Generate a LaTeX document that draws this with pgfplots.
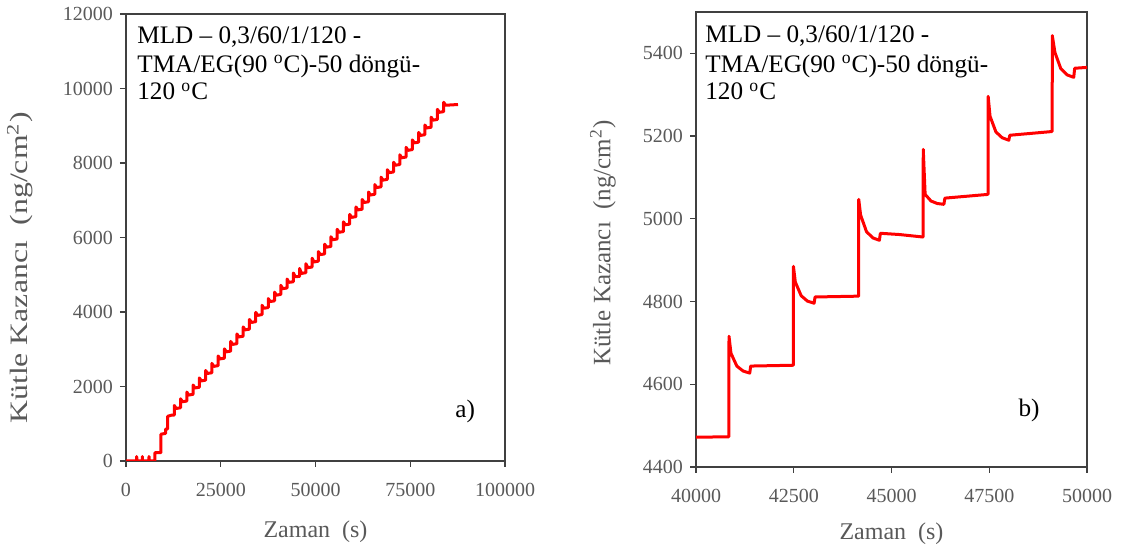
\documentclass[border=0pt]{standalone}
\usepackage{fontspec}
\setmainfont{Liberation Serif}
\usepackage{graphicx}
\usepackage{pgfplots}
\pgfplotsset{compat=1.18}
\definecolor{tickgray}{HTML}{595959}
\definecolor{axisdark}{HTML}{404040}

\pgfplotsset{
  qcm/.style={
    scale only axis,
    anchor=south west,
    axis line style={axisdark, line width=0.6pt},
    tick style={axisdark, line width=0.6pt},
    tick align=outside,
    major tick length=3pt,
    xtick pos=lower, ytick pos=left,
    scaled ticks=false,
    /pgf/number format/fixed,
    /pgf/number format/precision=0,
    /pgf/number format/1000 sep={},
    /pgf/number format/assume math mode=true,
    tick label style={font=\fontsize{10}{12}\selectfont, text=tickgray},
    xticklabel style={yshift=-4.5pt},
    label style={font=\fontsize{12}{14}\selectfont, text=tickgray},
    xlabel={Zaman\ \ (s)},
  },
  mass/.style={red, line width=1.5pt, line join=round},
}

\newcommand{\notelines}[4]{%
  \node[anchor=base west, inner sep=0pt, font=\fontsize{12.6}{15}\selectfont] at (rel axis cs:#1,#2) {MLD – 0,3/60/1/120 -};
  \node[anchor=base west, inner sep=0pt, font=\fontsize{12.6}{15}\selectfont] at (rel axis cs:#1,#3) {TMA/EG(90 \textsuperscript{o}C)-50 döngü-};
  \node[anchor=base west, inner sep=0pt, font=\fontsize{12.6}{15}\selectfont] at (rel axis cs:#1,#4) {120 \textsuperscript{o}C};
}

\begin{document}
\begin{tikzpicture}
\useasboundingbox (0,0) rectangle (565pt,274.5pt);

% a) whole run
\begin{axis}[qcm,
    at={(63pt,44pt)}, width=189.5pt, height=223.5pt,
    xmin=0, xmax=100000, ymin=0, ymax=12000,
    xtick={0,25000,50000,75000,100000},
    ytick={0,2000,4000,6000,8000,10000,12000},
    ylabel={\scalebox{1.27}[1]{Kütle Kazancı\ \ (ng/cm\textsuperscript{2})}},
    ylabel style={at={(axis description cs:-0.28,0.432)}, anchor=center, font=\fontsize{12.5}{14}\selectfont},
    xlabel style={at={(axis description cs:0.5,-0.158)}, anchor=center},
]
\addplot[mass] coordinates {
(0,0) (2800,0) (2820,120) (2900,0) (4280,0) (4300,120) (4380,0)
(6050,0) (6070,120) (6150,0) (7650,0) (7650,225) (9230,225) (9230,720)
(10450,740) (10450,855) (11000,860) (11000,1200) (12000,1230)
(12743,1230) (12743,1490) (13243,1410)
(14396,1430) (14396,1670) (14896,1590)
(16049,1610) (16049,1850) (16549,1770)
(17702,1790) (17702,2040) (18202,1960)
(19355,1980) (19355,2230) (19855,2150)
(21008,2170) (21008,2430) (21508,2350)
(22661,2370) (22661,2620) (23161,2540)
(24314,2560) (24314,2820) (24814,2740)
(25967,2760) (25967,3010) (26467,2930)
(27620,2950) (27620,3210) (28120,3130)
(29273,3150) (29273,3410) (29773,3330)
(30926,3350) (30926,3600) (31426,3520)
(32579,3540) (32579,3800) (33079,3720)
(34232,3740) (34232,3990) (34732,3910)
(35885,3930) (35885,4180) (36385,4100)
(37538,4120) (37538,4360) (38038,4280)
(39191,4300) (39191,4532) (39691,4452)
(40844,4472) (40844,4716) (41344,4627)
(42497,4645) (42497,4885) (42997,4796)
(44150,4812) (44150,5047) (44650,4948)
(45803,4956) (45803,5168) (46303,5035)
(47456,5055) (47456,5296) (47956,5190)
(49109,5208) (49109,5443) (49609,5342)
(50762,5366) (50762,5620) (51262,5540)
(52415,5560) (52415,5820) (52915,5740)
(54068,5760) (54068,6020) (54568,5940)
(55721,5960) (55721,6220) (56221,6140)
(57374,6160) (57374,6420) (57874,6340)
(59027,6360) (59027,6620) (59527,6540)
(60680,6560) (60680,6820) (61180,6740)
(62333,6760) (62333,7020) (62833,6940)
(63986,6960) (63986,7220) (64486,7140)
(65639,7160) (65639,7420) (66139,7340)
(67292,7360) (67292,7620) (67792,7540)
(68945,7560) (68945,7820) (69445,7740)
(70598,7760) (70598,8020) (71098,7940)
(72251,7960) (72251,8220) (72751,8140)
(73904,8160) (73904,8420) (74404,8340)
(75557,8360) (75557,8620) (76057,8540)
(77210,8560) (77210,8820) (77710,8740)
(78863,8760) (78863,9020) (79363,8940)
(80516,8960) (80516,9230) (81016,9150)
(82169,9170) (82169,9440) (82669,9360)
(83822,9380) (83822,9630) (84322,9550)
(87600,9570)
};
\notelines{0.029}{0.935}{0.870}{0.808}
\node[anchor=base west, inner sep=0pt, font=\fontsize{12.6}{15}\selectfont] at (rel axis cs:0.868,0.098) {a)};
\end{axis}

% b) zoom 40000-50000 s
\begin{axis}[qcm,
    at={(348pt,41pt)}, width=195.5pt, height=227.5pt,
    xmin=40000, xmax=50000, ymin=4400, ymax=5500,
    xtick={40000,42500,45000,47500,50000},
    ytick={4400,4600,4800,5000,5200,5400},
    ylabel={Kütle Kazancı\ \ (ng/cm\textsuperscript{2})},
    ylabel style={at={(axis description cs:-0.238,0.492)}, anchor=center, font=\fontsize{12.5}{14}\selectfont},
    xlabel style={at={(axis description cs:0.5,-0.146)}, anchor=center},
]
\addplot[mass] coordinates {
(40000,4472) (40840,4473)
(40844,4716) (40894,4675) (41044,4644) (41204,4632) (41374,4627) (41399,4644) (42486,4646)
(42490,4646) (42492,4885) (42540,4847) (42690,4814) (42850,4801) (43020,4796) (43045,4811) (44156,4813)
(44160,4813) (44162,5047) (44210,5009) (44360,4969) (44520,4954) (44690,4948) (44715,4965) (45200,4962) (45806,4956)
(45810,4956) (45812,5168) (45860,5059) (46010,5043) (46170,5037) (46340,5035) (46365,5050) (47466,5059)
(47470,5059) (47472,5296) (47520,5248) (47670,5210) (47830,5196) (48000,5190) (48025,5202) (49106,5211)
(49110,5211) (49112,5443) (49180,5402) (49330,5363) (49490,5348) (49660,5342) (49685,5364) (50000,5366)
};
\notelines{0.023}{0.932}{0.868}{0.807}
\node[anchor=base west, inner sep=0pt, font=\fontsize{12.6}{15}\selectfont] at (rel axis cs:0.824,0.112) {b)};
\end{axis}
\end{tikzpicture}
\end{document}
